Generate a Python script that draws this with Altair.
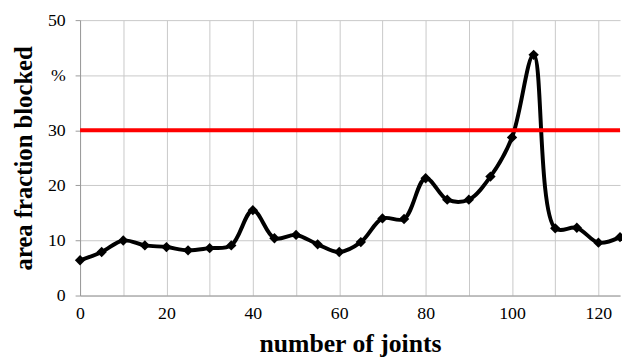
import altair as alt
import pandas as pd

joints = [0, 5, 10, 15, 20, 25, 30, 35, 40, 45, 50, 55, 60, 65, 70, 75, 80, 85, 90, 95, 100, 105, 110, 115, 120, 125]
blocked = [6.4, 7.9, 10.0, 9.1, 8.8, 8.2, 8.6, 9.1, 15.5, 10.4, 11.0, 9.3, 7.9, 9.7, 14.0, 13.9, 21.3, 17.4, 17.4, 21.6, 28.7, 43.7, 12.2, 12.3, 9.6, 10.6]
threshold = [30]

x_grid = [0, 10, 20, 30, 40, 50, 60, 70, 80, 90, 100, 110, 120]
y_ticks = [0, 10, 20, 30, 40, 50]

df = pd.DataFrame({"joints": joints, "blocked": blocked})
tdf = pd.DataFrame({"t": threshold})

FONT = "Liberation Serif"

x_enc = alt.X(
    "joints:Q",
    scale=alt.Scale(domain=[0, 125], nice=False, zero=False),
    axis=alt.Axis(
        values=x_grid,
        labelExpr="datum.value % 20 == 0 ? datum.label : ''",
        title="number of joints",
        titleFontSize=26, titlePadding=9,
        labelFontSize=18, labelPadding=9,
        ticks=False, labelFlush=False,
    ),
)
y_enc = alt.Y(
    "blocked:Q",
    scale=alt.Scale(domain=[0, 50], nice=False),
    axis=alt.Axis(
        values=y_ticks,
        labelExpr="datum.value == 40 ? '%' : datum.label",
        title="area fraction blocked",
        titleFontSize=25, titlePadding=11,
        labelFontSize=18, labelPadding=10,
        ticks=True, tickSize=5, tickColor="#999999",
    ),
)

line = alt.Chart(df).mark_line(
    color="black", strokeWidth=4, interpolate="catmull-rom",
    point=alt.OverlayMarkDef(shape="diamond", size=110, color="black", filled=True),
).encode(x=x_enc, y=y_enc)

rule = alt.Chart(tdf).mark_rule(color="#ff0000", strokeWidth=4).encode(y=alt.Y("t:Q"))

chart = alt.layer(line, rule).properties(
    width=547, height=279,
    autosize=alt.AutoSizeParams(type="none"),
    padding={"left": 73, "top": 10, "right": 2, "bottom": 61},
).configure_view(stroke=None).configure_axis(
    labelFont=FONT, titleFont=FONT, labelColor="black", titleColor="black",
    titleFontWeight="bold", domainColor="#999999", gridColor="#c8c8c8",
)

chart.save("out.html", embed_options={"renderer": "svg", "actions": False})
